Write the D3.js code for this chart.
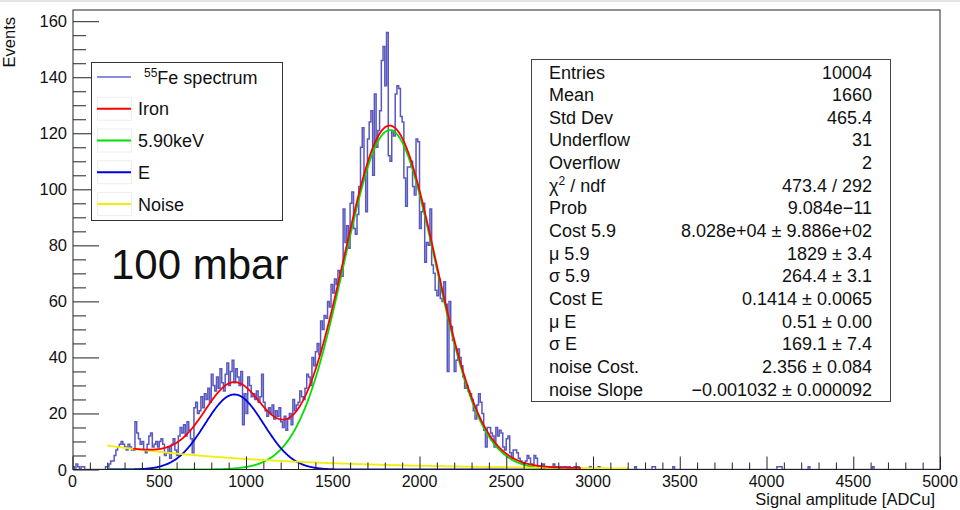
<!DOCTYPE html>
<html><head><meta charset="utf-8">
<script src="https://cdn.jsdelivr.net/npm/d3@7"></script>
<style>body{margin:0;background:#fff} svg{display:block} text{font-family:"Liberation Sans",Arial,Helvetica,sans-serif;fill:#111}</style>
</head><body><svg id="c" width="960" height="510"></svg>
<script>
// ---- data ----
const binWidth = 10;          // ADCu per bin, histogram 0..5000
const binStart = 0;
const counts = [
 1,0,2,1,0,1,1,0,0,0,
 0,0,0,0,0,0,0,0,0,1,
 1,2,3,3,5,7,8,9,10,9,
 8,7,9,8,7,7,17,13,11,9,
 10,7,6,9,12,13,8,9,10,8,
 10,11,9,5,6,8,4,9,11,7,
 5,12,15,13,16,12,17,14,11,6,
 22,24,20,21,26,22,27,25,29,24,
 34,30,28,33,29,36,31,28,34,38,
 30,35,39,31,36,33,30,35,16,27,
 20,33,30,26,27,25,28,24,26,34,
 24,21,19,22,20,23,18,21,19,22,
 17,15,19,14,18,20,16,25,21,23,
 24,28,26,25,29,34,33,30,40,37,
 42,45,41,53,50,55,54,60,58,66,
 63,68,66,71,70,69,93,81,87,79,
 95,99,86,84,91,101,115,122,105,92,
 118,124,128,105,134,115,121,128,146,151,
 137,156,112,110,121,119,134,137,136,126,
 124,104,94,108,108,110,101,98,118,117,
 86,92,95,74,81,80,93,73,70,64,
 62,68,61,60,67,59,35,60,51,46,
 35,39,43,40,37,33,29,30,28,27,
 25,21,18,23,27,24,20,14,8,15,
 15,13,12,8,15,12,14,13,8,7,
 11,12,6,4,7,7,6,4,3,2,
 2,3,5,4,2,1,5,4,1,1,
 1,2,1,0,1,0,1,2,1,1,
 0,1,0,1,1,0,1,0,0,1,
 0,1,0,0,0,0,0,0,1,0,
 0,0,0,1,0,0,0,0,0,0,
 0,0,0,0,0,0,0,0,0,0,
 0,0,0,0,1,0,0,0,0,0
];
const tailBinEdges = [3340, 3350, 3460, 4060, 4070, 4080, 4240, 4610];
const tailBinCounts = [1, 1, 1, 1, 1, 1, 1, 1];

const xTicks = [0,500,1000,1500,2000,2500,3000,3500,4000,4500,5000];
const yTicks = [0,20,40,60,80,100,120,140,160];

// fit parameters (from the stats box)
const fitNames  = ["Cost 5.9","mu 5.9","sigma 5.9","Cost E","mu E","sigma E","noise Cost.","noise Slope"];
const fitValues = [8.028e4, 1829, 264.4, 0.1414, 0.51, 169.1, 2.356, -0.001032];
const fitRange   = [200, 3200];
const totalRange = [350, 2930];

const statLabels = ["Entries","Mean","Std Dev","Underflow","Overflow","χ²/ndf","Prob","Cost 5.9","μ 5.9","σ 5.9","Cost E","μ E","σ E","noise Cost.","noise Slope"];
const statValues = ["10004","1660","465.4","31","2","473.4 / 292","9.084e\u221211","8.028e+04 \u00b1 9.886e+02","1829 \u00b1 3.4","264.4 \u00b1 3.1","0.1414 \u00b1 0.0065","0.51 \u00b1 0.00","169.1 \u00b1 7.4","2.356 \u00b1 0.084","\u22120.001032 \u00b1 0.000092"];

const legendLabels = ["Fe spectrum","Iron","5.90keV","E","Noise"];
const legendColors = ["#8c8cd8","#ff0000","#00e000","#0000e0","#f0f000"];

// ---- drawing ----
const svg = d3.select("#c");
const X0 = 73, X1 = 940, Y0 = 469.5, Y1 = 10;
const x = d3.scaleLinear().domain([0,5000]).range([72.5, X1]);
const y = d3.scaleLinear().domain([0,164]).range([Y0, Y1]);

// faint top border of the original screenshot
svg.append("line").attr("x1",0).attr("x2",960).attr("y1",1).attr("y2",1)
  .attr("stroke","#e4e4e4").attr("stroke-width",2);

svg.append("defs").append("clipPath").attr("id","clip")
  .append("rect").attr("x",X0).attr("y",Y1).attr("width",X1-X0).attr("height",Y0-Y1-0.5);

// histogram as step outline
const nBins = 500;
const full = new Array(nBins).fill(0);
counts.forEach((c,i)=>{ full[i]=c; });
tailBinEdges.forEach((e,i)=>{ full[Math.round((e-binStart)/binWidth)] = tailBinCounts[i]; });
const pts = full.map((c,i)=>[binStart+i*binWidth, c]);
pts.push([binStart+nBins*binWidth, full[nBins-1]]);
const plot = svg.append("g").attr("clip-path","url(#clip)");
plot.append("path").datum(pts)
  .attr("d", d3.line().x(d=>x(d[0])).y(d=>y(d[1])).curve(d3.curveStepAfter))
  .attr("fill","none").attr("stroke","#2e2eb0").attr("stroke-opacity",0.8).attr("stroke-width",1.5);

// fit functions
const [c59, m59, s59, cE, mE, sE, nC, nS] = fitValues;
const SQ2PI = Math.sqrt(2*Math.PI);
const g59 = v => c59/(s59*SQ2PI)*Math.exp(-0.5*((v-m59)/s59)**2);
const gE  = v => c59*cE/(sE*SQ2PI)*Math.exp(-0.5*((v-mE*m59)/sE)**2);
const gN  = v => Math.exp(nC + nS*v);
const gT  = v => g59(v)+gE(v)+gN(v);
function curve(fn, range, color, w){
  const xs = d3.range(range[0], range[1]+0.1, 4);
  plot.append("path").datum(xs)
    .attr("d", d3.line().x(v=>x(v)).y(v=>y(fn(v))))
    .attr("fill","none").attr("stroke",color).attr("stroke-width",w);
}
curve(g59, fitRange, legendColors[2], 1.8);
curve(gE,  fitRange, legendColors[3], 1.8);
curve(gN,  fitRange, legendColors[4], 1.8);
curve(gT,  totalRange, legendColors[1], 1.8);

// frame
svg.append("rect").attr("x",X0).attr("y",Y1).attr("width",X1-X0).attr("height",Y0-Y1)
  .attr("fill","none").attr("stroke","#222").attr("stroke-width",1);

// x axis ticks (inside, upward)
const xAxis = d3.axisTop(x).tickValues(xTicks).tickSize(13).tickFormat("");
svg.append("g").attr("transform",`translate(0,${Y0})`).call(xAxis)
  .call(g=>g.select(".domain").remove()).call(g=>g.selectAll("line").attr("stroke","#222"));
const xMinor = d3.axisTop(x).tickValues(d3.range(0,5001,100).filter(v=>v%500)).tickSize(7).tickFormat("");
svg.append("g").attr("transform",`translate(0,${Y0})`).call(xMinor)
  .call(g=>g.select(".domain").remove()).call(g=>g.selectAll("line").attr("stroke","#222"));
svg.append("g").selectAll("text").data(xTicks).join("text")
  .attr("x",d=>x(d)).attr("y",487).attr("text-anchor","middle")
  .attr("font-size",16).text(d=>d);

// y axis ticks (inside, rightward)
const yAxis = d3.axisRight(y).tickValues(yTicks).tickSize(26).tickFormat("");
svg.append("g").attr("transform",`translate(${X0},0)`).call(yAxis)
  .call(g=>g.select(".domain").remove()).call(g=>g.selectAll("line").attr("stroke","#222"));
const yMinor = d3.axisRight(y).tickValues(d3.range(0,164,5).filter(v=>v%20)).tickSize(13).tickFormat("");
svg.append("g").attr("transform",`translate(${X0},0)`).call(yMinor)
  .call(g=>g.select(".domain").remove()).call(g=>g.selectAll("line").attr("stroke","#222"));
svg.append("g").selectAll("text").data(yTicks).join("text")
  .attr("x",67).attr("y",d=>y(d)+6).attr("text-anchor","end")
  .attr("font-size",16.5).text(d=>d);

// axis titles
svg.append("text").attr("transform","translate(15,17) rotate(-90)")
  .attr("text-anchor","end").attr("font-size",16.5).text("Events");
svg.append("text").attr("x",935).attr("y",505).attr("text-anchor","end")
  .attr("font-size",16.5).text("Signal amplitude [ADCu]");

// legend
svg.append("rect").attr("x",91.5).attr("y",62.5).attr("width",191).attr("height",158)
  .attr("fill","#fff").attr("stroke","#333").attr("stroke-width",1);
const legRowY = d3.scaleLinear().domain([0,4]).range([77,204]);
legendLabels.forEach((lab,i)=>{
  const cy = legRowY(i);
  if(i>0){
    svg.append("rect").attr("x",97.5).attr("y",cy-11.5).attr("width",34).attr("height",23)
      .attr("fill","none").attr("stroke","#eeeeee").attr("stroke-width",1);
  }
  svg.append("line").attr("x1",97).attr("x2",131).attr("y1",cy).attr("y2",cy)
    .attr("stroke",legendColors[i]).attr("stroke-width",2);
  const t = svg.append("text").attr("y",cy+6.5).attr("font-size",18);
  if(i===0){
    t.attr("x",144);
    t.append("tspan").attr("font-size",12).attr("dy",-7).text("55");
    t.append("tspan").attr("dy",7).text(lab);
  } else {
    t.attr("x",138).text(lab);
  }
});

// big label
svg.append("text").attr("x",111).attr("y",279).attr("font-size",42).text("100 mbar");

// stats box
svg.append("rect").attr("x",531.5).attr("y",59.5).attr("width",359).attr("height",342)
  .attr("fill","#fff").attr("stroke","#444").attr("stroke-width",1);
const statRowY = d3.scaleLinear().domain([0,14]).range([72,389]);
statLabels.forEach((lab,i)=>{
  const by = statRowY(i)+6.5;
  const t = svg.append("text").attr("x",549).attr("y",by).attr("font-size",18);
  if(lab==="χ²/ndf"){
    t.append("tspan").text("χ");
    t.append("tspan").attr("font-size",12).attr("dy",-7).text("2");
    t.append("tspan").attr("dy",7).text(" / ndf");
  } else t.text(lab);
  svg.append("text").attr("x",872).attr("y",by).attr("text-anchor","end")
    .attr("font-size",18).text(statValues[i]);
});
</script></body></html>
